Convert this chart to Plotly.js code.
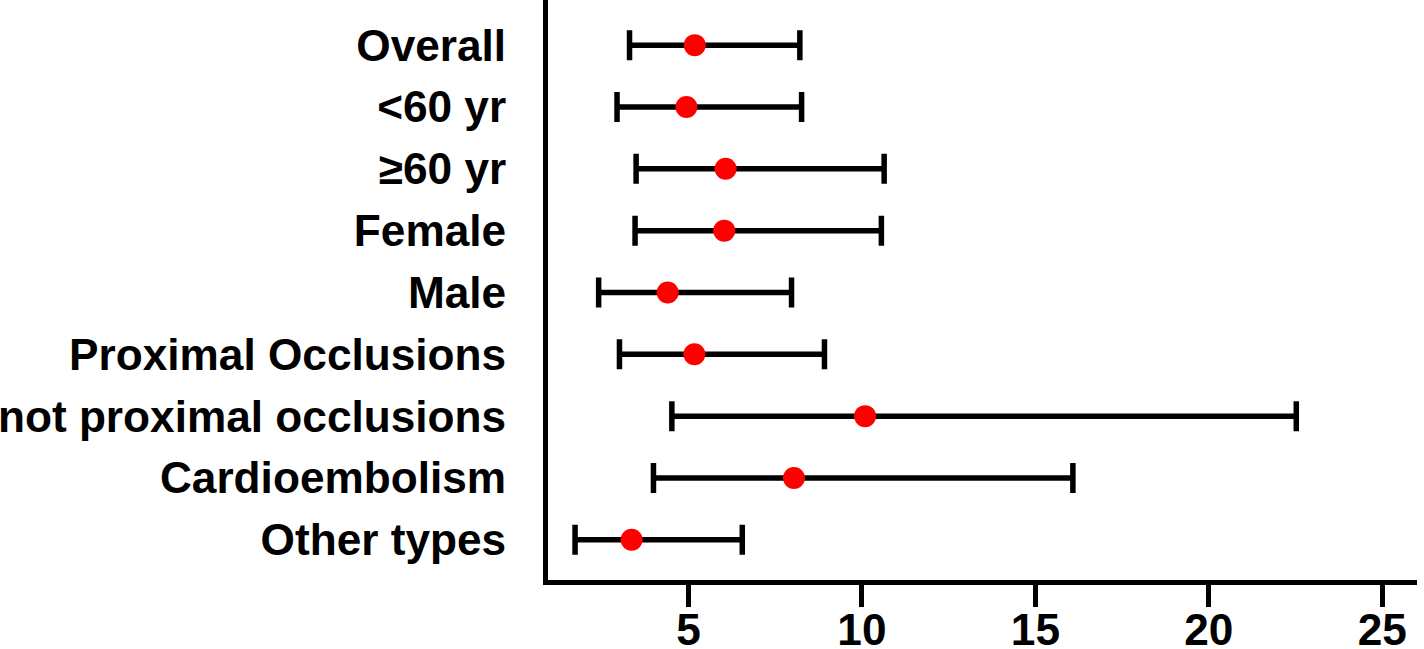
<!DOCTYPE html>
<html>
<head>
<meta charset="utf-8">
<script src="https://cdn.plot.ly/plotly-3.0.1.min.js"></script>
<style>html,body{margin:0;padding:0;background:#fff;}#chart{width:1424px;height:649px;}</style>
</head>
<body>
<div id="chart"></div>
<script>
const categories = ["Overall", "<60 yr", "\u226560 yr", "Female", "Male", "Proximal Occlusions", "not proximal occlusions", "Cardioembolism", "Other types"];
const estimate = [5.18, 4.94, 6.07, 6.03, 4.40, 5.17, 10.09, 8.04, 3.36];
const lower = [3.30, 2.94, 3.49, 3.46, 2.41, 3.01, 4.52, 3.99, 1.73];
const upper = [8.21, 8.26, 10.64, 10.56, 7.97, 8.92, 22.52, 16.08, 6.55];
const xTicks = [5, 10, 15, 20, 25];

const plus = upper.map((u, i) => u - estimate[i]);
const minus = estimate.map((e, i) => e - lower[i]);

const font = {family: "Liberation Sans, Arial, sans-serif", size: 44.2, color: "#000", weight: "bold"};

const trace = {
  type: "scatter",
  mode: "markers",
  x: estimate,
  y: categories,
  marker: {color: "#ff0000", size: 22},
  error_x: {type: "data", symmetric: false, array: plus, arrayminus: minus, color: "#000", thickness: 5.5, width: 15},
  hoverinfo: "x+y",
  cliponaxis: false
};

const layout = {
  width: 1424, height: 649,
  margin: {l: 548, r: 7, t: 0, b: 69},
  paper_bgcolor: "#fff", plot_bgcolor: "#fff",
  showlegend: false,
  xaxis: {
    range: [0.95, 26.0],
    tickvals: xTicks, ticktext: xTicks.map(String),
    showgrid: false, zeroline: false,
    showline: true, linecolor: "#000", linewidth: 5,
    ticks: "outside", ticklen: 22, tickwidth: 5, tickcolor: "#000",
    ticklabelstandoff: -15,
    tickfont: font
  },
  yaxis: {
    type: "category",
    categoryorder: "array", categoryarray: categories,
    range: [8.65, -0.73],
    showgrid: false, zeroline: false,
    showline: true, linecolor: "#000", linewidth: 5,
    ticks: "", ticklabelstandoff: 28,
    tickfont: font
  }
};

Plotly.newPlot("chart", [trace], layout, {displayModeBar: false, staticPlot: true});
</script>
</body>
</html>
